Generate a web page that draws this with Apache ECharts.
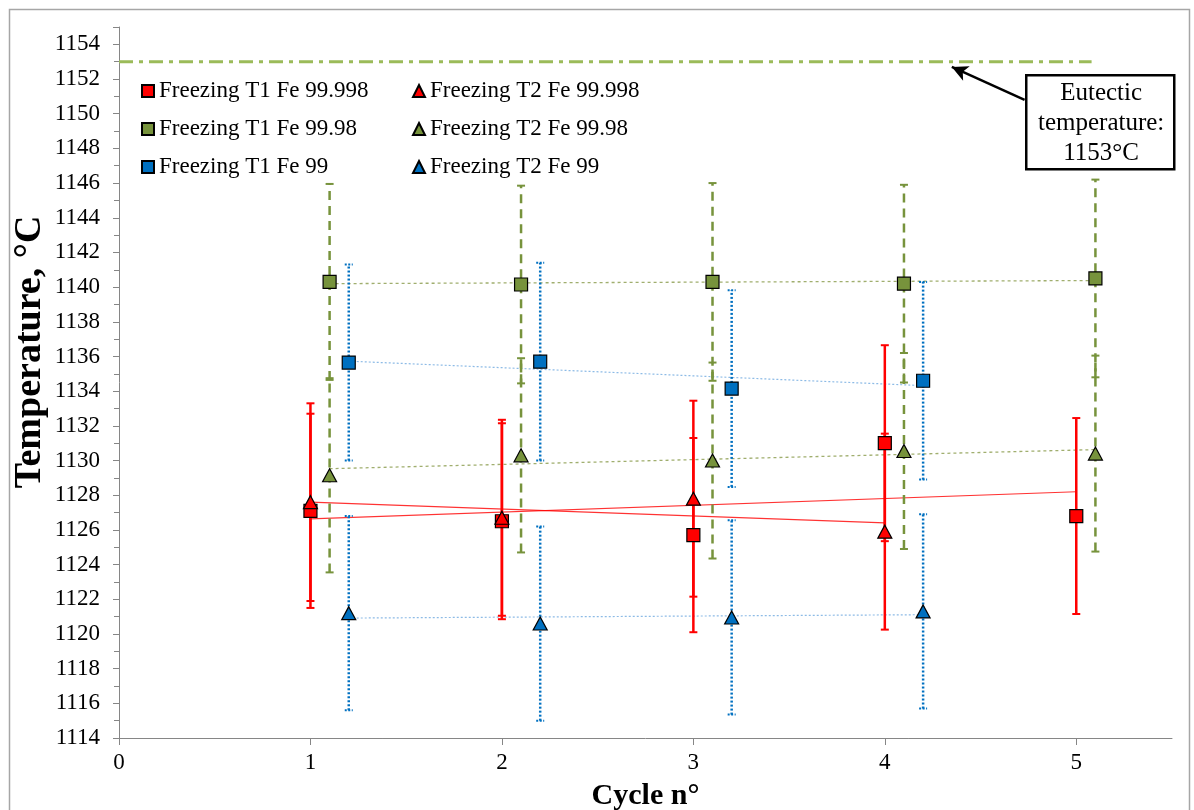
<!DOCTYPE html>
<html>
<head>
<meta charset="utf-8">
<script src="https://cdn.jsdelivr.net/npm/echarts@6/dist/echarts.min.js"></script>
<style>html,body{margin:0;padding:0;background:#fff}#c{width:1194px;height:810px}</style>
</head>
<body>
<div id="c"></div>
<script>
// ---- data ----
const xRedT1 = [1, 2, 3, 4, 5];
const redT1 = [1127.1, 1126.5, 1125.7, 1131.0, 1126.8];
const redT1Err = [5.6, 5.65, 5.6, 5.65, 5.65];

const xRedT2 = [1, 2, 3, 4];
const redT2 = [1127.6, 1126.7, 1127.8, 1125.9];
const redT2Err = [5.7, 5.65, 5.65, 5.65];

const xGreen = [1.1, 2.1, 3.1, 4.1, 5.1];
const greenT1 = [1140.3, 1140.15, 1140.3, 1140.2, 1140.5];
const greenT1Err = [5.65, 5.7, 5.7, 5.7, 5.7];
const greenT2 = [1129.15, 1130.3, 1130.0, 1130.55, 1130.4];
const greenT2Err = [5.6, 5.6, 5.65, 5.65, 5.65];

const xBlue = [1.2, 2.2, 3.2, 4.2];
const blueT1 = [1135.65, 1135.7, 1134.15, 1134.6];
const blueT1Err = [5.65, 5.7, 5.67, 5.7];
const blueT2 = [1121.2, 1120.6, 1120.95, 1121.3];
const blueT2Err = [5.6, 5.6, 5.6, 5.6];

const eutecticTemp = 1153;
const eutecticX = [0, 5.08];
const arrowFrom = [4.73, 1150.8];
const arrowTo = [4.35, 1152.7];

const xTickValues = [0, 1, 2, 3, 4, 5];
const seriesNames = [
  'Freezing T1 Fe 99.998', 'Freezing T2 Fe 99.998',
  'Freezing T1 Fe 99.98', 'Freezing T2 Fe 99.98',
  'Freezing T1 Fe 99', 'Freezing T2 Fe 99'
];

// ---- helpers ----
const FONT = "'Liberation Serif','Times New Roman',serif";
const RED = '#FF0000', GREEN = '#77933C', BLUE = '#0070C0';

function pairs(xs, ys) { return xs.map((x, i) => [x, ys[i]]); }

function trend(xs, ys) {
  const n = xs.length;
  const mx = xs.reduce((a, b) => a + b, 0) / n;
  const my = ys.reduce((a, b) => a + b, 0) / n;
  let sxy = 0, sxx = 0;
  for (let i = 0; i < n; i++) { sxy += (xs[i] - mx) * (ys[i] - my); sxx += (xs[i] - mx) * (xs[i] - mx); }
  const b = sxy / sxx, a = my - b * mx;
  const x0 = xs[0], x1 = xs[n - 1];
  return [[x0, a + b * x0], [x1, a + b * x1]];
}

function errSeries(id, xs, ys, errs, color, dash, capDash) {
  return {
    type: 'custom', id: id, silent: true, z: 2,
    data: xs.map((x, i) => [x, ys[i] - errs[i], ys[i] + errs[i]]),
    encode: { x: 0, y: [1, 2] },
    renderItem: function (params, api) {
      const x = api.value(0), lo = api.value(1), hi = api.value(2);
      const a = api.coord([x, lo]), b = api.coord([x, hi]);
      const hw = 4;
      return {
        type: 'group', children: [
          { type: 'line', shape: { x1: a[0], y1: a[1], x2: b[0], y2: b[1] }, style: { stroke: color, lineWidth: 2.5, lineDash: dash } },
          { type: 'line', shape: { x1: a[0] - hw, y1: a[1], x2: a[0] + hw, y2: a[1] }, style: { stroke: color, lineWidth: 2, lineDash: capDash } },
          { type: 'line', shape: { x1: b[0] - hw, y1: b[1], x2: b[0] + hw, y2: b[1] }, style: { stroke: color, lineWidth: 2, lineDash: capDash } }
        ]
      };
    }
  };
}

function trendSeries(id, xs, ys, color, width, type, opacity) {
  return {
    type: 'line', id: id, data: trend(xs, ys), symbol: 'none', silent: true, z: 1,
    lineStyle: { color: color, width: width, type: type, opacity: opacity }
  };
}

function markerSeries(name, xs, ys, color, symbol, size, z) {
  return {
    type: 'scatter', name: name, data: pairs(xs, ys), symbol: symbol, symbolSize: size, z: z,
    itemStyle: { color: color, borderColor: '#000', borderWidth: 1.2, opacity: 1 }
  };
}

const chart = echarts.init(document.getElementById('c'), null, { renderer: 'canvas' });

const legendCommon = {
  orient: 'vertical', itemWidth: 12, itemHeight: 12, itemGap: 14,
  textStyle: { fontFamily: FONT, fontSize: 23, color: '#000', lineHeight: 24 },
  selectedMode: false, top: 74
};

chart.setOption({
  animation: false,
  backgroundColor: '#fff',
  grid: { left: 119, right: 22, top: 27, bottom: 72, containLabel: false, outerBoundsMode: 'none' },
  legend: [
    Object.assign({}, legendCommon, { left: 136, data: [seriesNames[0], seriesNames[2], seriesNames[4]] }),
    Object.assign({}, legendCommon, { left: 407, data: [seriesNames[1], seriesNames[3], seriesNames[5]] })
  ],
  xAxis: {
    type: 'value', min: 0, max: 5.5, interval: 1,
    axisLine: { show: true, lineStyle: { color: '#868686', width: 1 } },
    axisTick: { show: true, length: 7, lineStyle: { color: '#868686' }, customValues: xTickValues },
    axisLabel: { fontFamily: FONT, fontSize: 23, color: '#000', margin: 13, customValues: xTickValues },
    splitLine: { show: false },
    name: 'Cycle n°', nameLocation: 'middle', nameGap: 43,
    nameTextStyle: { fontFamily: FONT, fontSize: 30, fontWeight: 'bold', color: '#000' }
  },
  yAxis: {
    type: 'value', min: 1114, max: 1155, interval: 2,
    axisLine: { show: true, lineStyle: { color: '#868686', width: 1 } },
    axisTick: { show: true, length: 6, lineStyle: { color: '#868686' } },
    minorTick: { show: true, splitNumber: 2, length: 5, lineStyle: { color: '#868686' } },
    axisLabel: { fontFamily: FONT, fontSize: 23, color: '#000', margin: 19, showMaxLabel: false,
      formatter: v => (v % 2 === 0 ? String(v) : '') },
    splitLine: { show: false }
  },
  series: [
    {
      type: 'line', id: 'eutectic', data: [[eutecticX[0], eutecticTemp], [eutecticX[1], eutecticTemp]],
      symbol: 'none', silent: true, z: 1,
      lineStyle: { color: '#9BBB59', width: 3, type: [14, 6, 4, 6] },
      markLine: {
        silent: true, symbol: ['none', 'arrow'], symbolSize: [12, 16],
        label: { show: false },
        lineStyle: { color: '#000', width: 2.5, type: 'solid' },
        data: [[{ coord: arrowFrom }, { coord: arrowTo }]]
      }
    },
    trendSeries('trRedT1', xRedT1, redT1, RED, 1.2, 'solid', 0.8),
    trendSeries('trRedT2', xRedT2, redT2, RED, 1.2, 'solid', 0.8),
    trendSeries('trGreenT1', xGreen, greenT1, '#A0AE6E', 1.3, [3, 3], 1),
    trendSeries('trGreenT2', xGreen, greenT2, '#A0AE6E', 1.3, [3, 3], 1),
    trendSeries('trBlueT1', xBlue, blueT1, '#8DBBE6', 1.2, [2, 2], 1),
    trendSeries('trBlueT2', xBlue, blueT2, '#8DBBE6', 1.2, [2, 2], 1),
    errSeries('eRedT1', xRedT1, redT1, redT1Err, RED, null, null),
    errSeries('eRedT2', xRedT2, redT2, redT2Err, RED, null, null),
    errSeries('eGreenT1', xGreen, greenT1, greenT1Err, GREEN, [9, 6], null),
    errSeries('eGreenT2', xGreen, greenT2, greenT2Err, GREEN, [9, 6], null),
    errSeries('eBlueT1', xBlue, blueT1, blueT1Err, BLUE, [2, 2], [2, 1.5]),
    errSeries('eBlueT2', xBlue, blueT2, blueT2Err, BLUE, [2, 2], [2, 1.5]),
    markerSeries(seriesNames[0], xRedT1, redT1, RED, 'rect', 13, 5),
    markerSeries(seriesNames[1], xRedT2, redT2, RED, 'triangle', [14, 13], 6),
    markerSeries(seriesNames[2], xGreen, greenT1, GREEN, 'rect', 13, 5),
    markerSeries(seriesNames[3], xGreen, greenT2, GREEN, 'triangle', [14, 13], 6),
    markerSeries(seriesNames[4], xBlue, blueT1, BLUE, 'rect', 13, 5),
    markerSeries(seriesNames[5], xBlue, blueT2, BLUE, 'triangle', [14, 13], 6)
  ],
  graphic: [
    { type: 'rect', left: 7, top: 7, silent: true, z: -10,
      shape: { width: 1180, height: 830 }, style: { fill: 'none', stroke: '#a6a6a6', lineWidth: 1.5 } },
    { type: 'text', x: 30, y: 352, rotation: Math.PI / 2, silent: true, z: 10,
      style: { text: 'Temperature, °C', font: "bold 38px 'Liberation Serif','Times New Roman',serif",
        fill: '#000', textAlign: 'center', textVerticalAlign: 'middle' } },
    { type: 'rect', left: 1025, top: 74, silent: true, z: 20,
      shape: { width: 148, height: 94 }, style: { fill: '#fff', stroke: '#000', lineWidth: 2.5 } },
    { type: 'text', left: 1038, top: 78, silent: true, z: 21,
      style: { text: 'Eutectic\ntemperature:\n1153°C', font: "25px 'Liberation Serif','Times New Roman',serif",
        fill: '#000', textAlign: 'center', lineHeight: 30, width: 122 } }
  ]
});
</script>
</body>
</html>
